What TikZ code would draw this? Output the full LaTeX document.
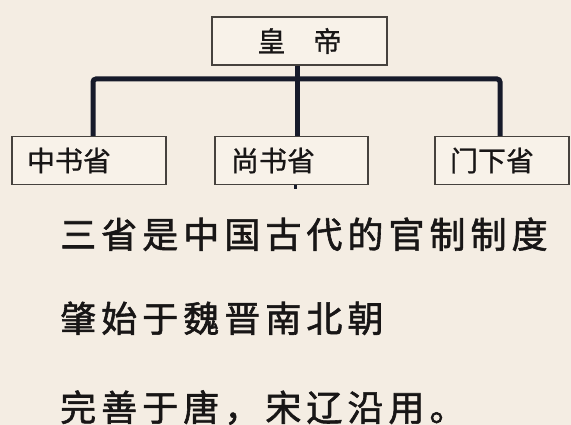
\documentclass[tikz,border=0pt]{standalone}
\usepackage{fontspec}
\setmainfont{Noto Sans CJK SC}
\newfontfamily\boxfont[FakeBold=0.8]{Noto Sans CJK SC}
\newfontfamily\bodyfont[LetterSpace=14, FakeBold=1.6]{Noto Sans CJK SC}
\definecolor{bgc}{RGB}{244,237,227}
\definecolor{boxfill}{RGB}{248,242,233}
\definecolor{linec}{RGB}{22,26,42}
\definecolor{boxline}{RGB}{70,66,62}
\definecolor{textc}{RGB}{24,22,22}
\tikzset{
  orgbox/.style={draw=boxline, line width=1.1pt, fill=boxfill, rectangle,
    inner ysep=0pt, minimum height=48pt, font=\boxfont\fontsize{28}{30}\selectfont,
    text=textc, align=left},
  conn/.style={draw=linec, line width=5pt, rounded corners=3pt},
  bodytext/.style={anchor=base west, inner sep=0pt, text=textc,
    font=\bodyfont\fontsize{36}{40}\selectfont}
}
\begin{document}
\begin{tikzpicture}[x=1pt,y=-1pt]
\fill[bgc] (0,0) rectangle (571,425);
\useasboundingbox (0,0) rectangle (571,425);
% boxes
\node[orgbox, minimum width=175pt, minimum height=48pt, align=center] (top) at (299.5,41) {皇　帝};
\node[orgbox, text width=124pt, inner xsep=15pt] (b1) at (89,160.5) {中书省};
\node[orgbox, text width=121pt, inner xsep=16pt] (b2) at (291.5,160.5) {尚书省};
\node[orgbox, text width=104pt, inner xsep=15pt] (b3) at (502,160.5) {门下省};
% connectors
\coordinate (j) at (297,79);
\draw[conn] ([xshift=4pt]b1.north) |- (j) -| ([xshift=-2pt]b3.north);
\draw[conn, rounded corners=0pt] (top.south -| j) -- (b2.north -| j);
\draw[draw=linec, line width=3pt] ([xshift=3.5pt]b2.south) -- ++(0,4);
% text
\node[bodytext] (l1) at (60,248) {三省是中国古代的官制制度};
\node[bodytext] (l2) at (60,332) {肇始于魏晋南北朝};
\node[bodytext] (l3) at (60,421) {完善于唐，宋辽沿用。};
\end{tikzpicture}
\end{document}
